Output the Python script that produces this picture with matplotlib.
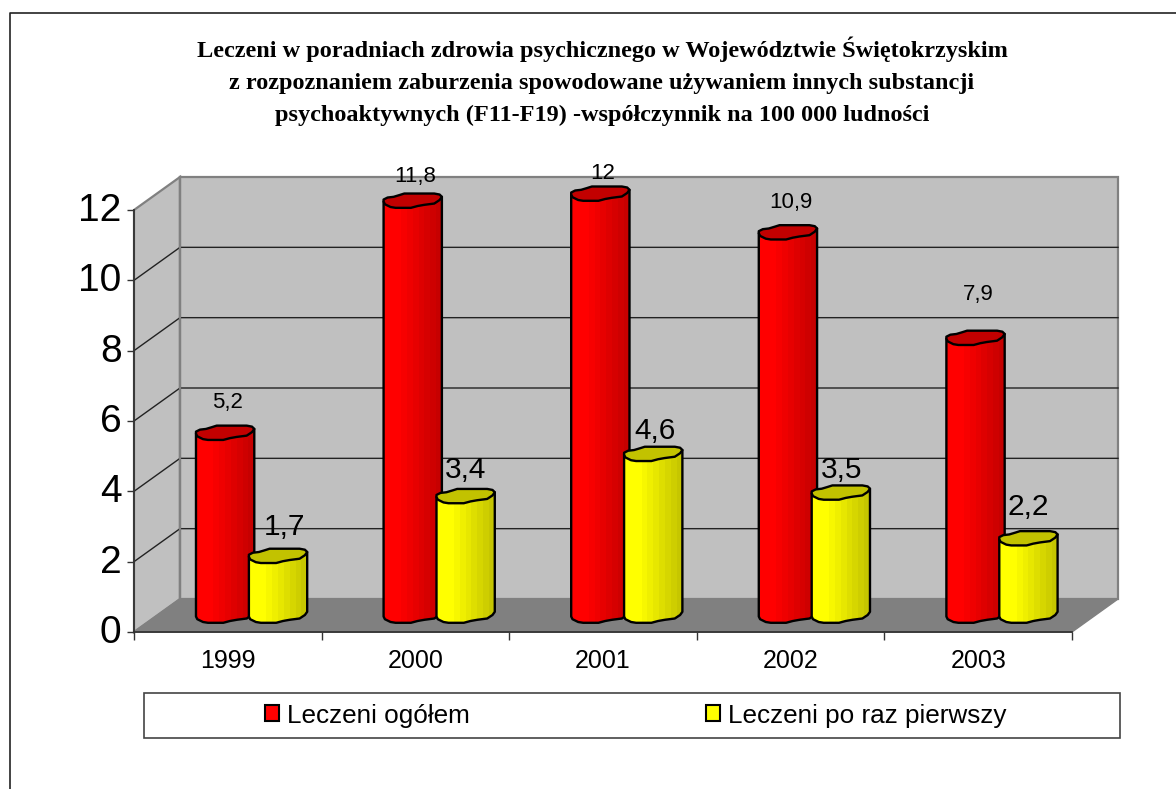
import numpy as np
import matplotlib
matplotlib.use('Agg')
import matplotlib.pyplot as plt
from matplotlib.lines import Line2D
from matplotlib.patches import Polygon, Rectangle
from matplotlib.transforms import ScaledTranslation

years = ['1999', '2000', '2001', '2002', '2003']
leczeni_ogolem = [5.2, 11.8, 12, 10.9, 7.9]
leczeni_pierwszy = [1.7, 3.4, 4.6, 3.5, 2.2]
labels_ogolem = ['5,2', '11,8', '12', '10,9', '7,9']
labels_pierwszy = ['1,7', '3,4', '4,6', '3,5', '2,2']
y_ticks = [0, 2, 4, 6, 8, 10, 12]
title_lines = [
    'Leczeni w poradniach zdrowia psychicznego w Województwie Świętokrzyskim',
    'z rozpoznaniem zaburzenia spowodowane używaniem innych substancji',
    'psychoaktywnych (F11-F19) -współczynnik na 100 000 ludności',
]

W, H = 1176, 789
plt.rcParams['font.family'] = ['Liberation Sans', 'DejaVu Sans']

fig = plt.figure(figsize=(W / 100, H / 100), dpi=100, facecolor='white')
ax = fig.add_axes([134 / W, (H - 632) / H, 938 / W, 422 / H])
ax.set_xlim(0, 5)
ax.set_ylim(0, 12)
ax.patch.set_visible(False)

px_x = 5 / 938
px_y = 12 / 422
dx = 46 * px_x
dy = 33 * px_y

# outer frame: only the left and top edges are in the picture
fig.add_artist(Line2D([10 / W, 10 / W, 1], [0, 1 - 12.5 / H, 1 - 12.5 / H], color='#222222', lw=1.2,
                      transform=fig.transFigure))

# walls and floor
ax.add_patch(Polygon([(0, 0), (dx, dy), (dx, 12 + dy), (0, 12)], fc='#c0c0c0', ec='#808080', lw=1.6, clip_on=False, zorder=0))
ax.add_patch(Polygon([(dx, dy), (5 + dx, dy), (5 + dx, 12 + dy), (dx, 12 + dy)], fc='#c0c0c0', ec='#808080', lw=1.6, clip_on=False, zorder=0))
ax.add_patch(Polygon([(0, 0), (5, 0), (5 + dx, dy), (dx, dy)], fc='#808080', ec='#808080', lw=1, clip_on=False, zorder=0.5))
for v in y_ticks[1:-1]:
    ax.plot([0, dx, 5 + dx], [v, v + dy, v + dy], color='#222222', lw=1, clip_on=False, zorder=0.4)
ax.plot([dx, dx], [dy, 12 + dy], color='#808080', lw=1.6, clip_on=False, zorder=0.45)

# lumpy outline of a cylinder end, in pixels around its centre
ring_x = np.array([29.3, 27, 21.7, -8.3, -13, -19, -25, -29, -29, -27.7, -22, -17, -1.7, 5, 11.7, 21.7, 27]) * px_x
ring_y = np.array([4.2, 6.5, 7.5, 7.5, 6, 4.2, 3.5, 1.5, -0.5, -3.2, -6, -6.8, -6.8, -5, -3.8, -2.5, 1]) * px_y
base = 16 * px_y


def cylinder(cx, value, color, z):
    top = base + value
    # right end of the lid, front half of the base ring, left end of the lid
    lower = np.column_stack([cx + ring_x[:7:-1], base + ring_y[:7:-1]])
    pts = np.vstack([[cx + ring_x[0], top + ring_y[0]],
                     [cx + ring_x[0], base + ring_y[0]],
                     lower,
                     [cx + ring_x[8], top + ring_y[8]]])
    body = Polygon(pts, fc='none', ec='none', clip_on=False, zorder=z)
    ax.add_patch(body)
    # banded shading, brightest at the left
    n = 10
    edges = np.linspace(cx + ring_x[8], cx + ring_x[0], n + 1)
    for i in range(n):
        pos = (i + 0.5) / n
        shade = 1.0 if pos < 0.25 else 1.0 - 0.24 * (pos - 0.25) / 0.75
        c = np.array(color) * shade
        strip = ax.bar(edges[i], value + 1, bottom=base - 0.5, width=edges[i + 1] - edges[i] + 0.002,
                       align='edge', color=tuple(c), lw=0, zorder=z + 0.1)[0]
        strip.set_clip_path(body)
        strip.set_clip_box(None)
    ax.add_patch(Polygon(pts, closed=True, fc='none', ec='black', lw=1.7, clip_on=False, zorder=z + 0.2, joinstyle='round'))
    lid = np.column_stack([cx + ring_x, top + ring_y])
    ax.add_patch(Polygon(lid, closed=True, fc=tuple(np.array(color) * 0.76), ec='black', lw=1.7,
                         clip_on=False, zorder=z + 0.3, joinstyle='round'))


red = (1, 0, 0)
yellow = (1, 1, 0)
x = np.arange(len(years))
for i in x:
    cylinder(i + 0.485, leczeni_ogolem[i], red, 2 + i)
    cylinder(i + 0.767, leczeni_pierwszy[i], yellow, 2.5 + i)

# value labels sit at uneven places in the original
red_off = [20, 14, 10, 20, 33]
yel_off = [15, 12, 9, 9, 18]
yel_shift = [7, 0, 2, 1, 0]
for i in x:
    ax.annotate(labels_ogolem[i], (i + 0.485, leczeni_ogolem[i] + base), xytext=(3, red_off[i]), textcoords='offset pixels',
                ha='center', va='bottom', fontsize=16, annotation_clip=False, zorder=10)
    ax.annotate(labels_pierwszy[i], (i + 0.767, leczeni_pierwszy[i] + base), xytext=(yel_shift[i], yel_off[i]), textcoords='offset pixels',
                ha='center', va='bottom', fontsize=21.5, annotation_clip=False, zorder=10)

# axes
for s in ['top', 'right']:
    ax.spines[s].set_visible(False)
for s in ['left', 'bottom']:
    ax.spines[s].set_color('#333333')
    ax.spines[s].set_linewidth(1.3)
    ax.spines[s].set_zorder(1)
ax.set_yticks(y_ticks)
ax.set_yticklabels([str(v) for v in y_ticks], fontsize=28)
ax.tick_params(axis='y', length=5, width=1, color='#333333', pad=4)
up = ScaledTranslation(0, 3 / 100, fig.dpi_scale_trans)
for lab in ax.get_yticklabels():
    lab.set_transform(lab.get_transform() + up)
ax.set_xticks(np.arange(6))
ax.set_xticklabels([])
ax.set_xticks(x + 0.5, years, minor=True, fontsize=18)
ax.tick_params(axis='x', which='major', length=6, width=1, color='#333333')
ax.tick_params(axis='x', which='minor', length=0, pad=12.5)

# title
for line, ypx in zip(title_lines, [49, 83, 115]):
    fig.text(602 / W, 1 - ypx / H, line, family=['Liberation Serif', 'DejaVu Serif'], weight='bold', fontsize=17.5,
             ha='center', va='center')

# legend
fig.add_artist(Rectangle((144 / W, (H - 738) / H), 976 / W, 45 / H, fc='white', ec='#444444', lw=1.2, transform=fig.transFigure))
h1 = Rectangle((0, 0), 1, 1, fc='#ff0000', ec='black', lw=1.5)
h2 = Rectangle((0, 0), 1, 1, fc='#ffff00', ec='black', lw=1.5)
leg = fig.legend([h1, h2], ['Leczeni ogółem', 'Leczeni po raz pierwszy'], ncol=2, frameon=False, fontsize=18.8,
                 loc='center', bbox_to_anchor=(636 / W, 1 - 715.5 / H), handlelength=0.54, handleheight=0.54,
                 handletextpad=0.3, columnspacing=9.05)
leg.set_zorder(5)

fig.savefig('out.png', dpi=100)
